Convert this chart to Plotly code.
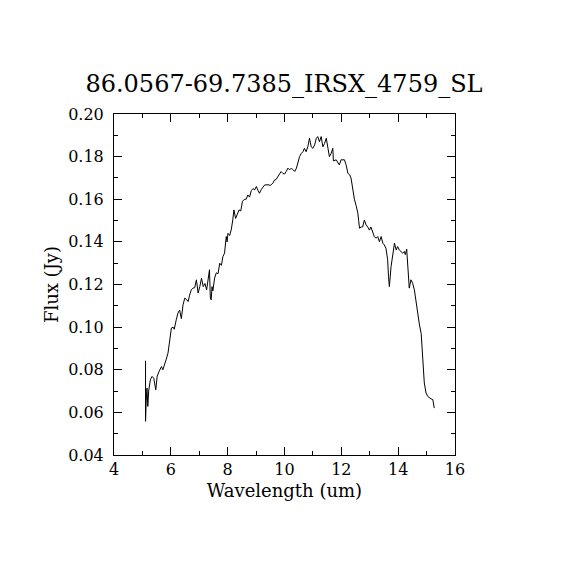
import plotly.graph_objects as go

title_text = "86.0567-69.7385_IRSX_4759_SL"

wavelength = [
    5.11, 5.11, 5.13, 5.16, 5.19, 5.22, 5.28, 5.34, 5.40, 5.47,
    5.52, 5.58, 5.67, 5.72, 5.78, 5.84, 5.90, 5.96, 6.02, 6.08,
    6.12, 6.19, 6.25, 6.31, 6.37, 6.43, 6.49, 6.55, 6.61, 6.66,
    6.72, 6.78, 6.84, 6.90, 6.96, 7.02, 7.08, 7.14, 7.20, 7.26,
    7.32, 7.36, 7.39, 7.42, 7.45, 7.48, 7.54, 7.60, 7.66, 7.72,
    7.78, 7.83, 7.89, 7.95, 7.98, 8.01, 8.07, 8.13, 8.18, 8.22,
    8.28, 8.34, 8.40, 8.46, 8.52, 8.59, 8.65, 8.71, 8.77, 8.83,
    8.89, 8.95, 9.01, 9.07, 9.12, 9.18, 9.30, 9.42, 9.50, 9.59,
    9.65, 9.70, 9.76, 9.82, 9.88, 9.94, 10.00, 10.06, 10.12, 10.18,
    10.24, 10.30, 10.36, 10.42, 10.47, 10.53, 10.59, 10.65, 10.70, 10.76,
    10.82, 10.88, 10.94, 11.00, 11.06, 11.12, 11.17, 11.23, 11.29, 11.35,
    11.41, 11.47, 11.53, 11.58, 11.64, 11.70, 11.72, 11.82, 11.93, 11.99,
    12.11, 12.17, 12.23, 12.29, 12.34, 12.40, 12.46, 12.52, 12.58, 12.61,
    12.64, 12.70, 12.75, 12.81, 12.87, 12.93, 12.99, 13.04, 13.10, 13.16,
    13.22, 13.28, 13.34, 13.40, 13.46, 13.51, 13.57, 13.63, 13.66, 13.69,
    13.75, 13.81, 13.87, 13.93, 13.98, 14.04, 14.10, 14.16, 14.22, 14.25,
    14.30, 14.34, 14.37, 14.39, 14.45, 14.51, 14.57, 14.63, 14.69, 14.75,
    14.81, 14.84, 14.89, 14.92, 14.98, 15.04, 15.16, 15.22, 15.27,
]

flux = [
    0.0842, 0.0558, 0.0644, 0.0714, 0.0628, 0.0700, 0.0753, 0.0769, 0.0760, 0.0706,
    0.0770, 0.0790, 0.0815, 0.0800, 0.0831, 0.0850, 0.0878, 0.0940, 0.0996, 0.1000,
    0.0990, 0.1034, 0.1066, 0.1080, 0.1040, 0.1105, 0.1136, 0.1130, 0.1120, 0.1150,
    0.1175, 0.1183, 0.1185, 0.1222, 0.1160, 0.1190, 0.1230, 0.1190, 0.1205, 0.1175,
    0.1220, 0.1269, 0.1136, 0.1128, 0.1190, 0.1170, 0.1230, 0.1255, 0.1250, 0.1300,
    0.1290, 0.1330, 0.1347, 0.1425, 0.1400, 0.1440, 0.1430, 0.1460, 0.1503, 0.1550,
    0.1510, 0.1530, 0.1550, 0.1545, 0.1590, 0.1600, 0.1600, 0.1620, 0.1610, 0.1640,
    0.1650, 0.1644, 0.1660, 0.1640, 0.1628, 0.1645, 0.1667, 0.1668, 0.1665, 0.1675,
    0.1690, 0.1692, 0.1706, 0.1722, 0.1730, 0.1722, 0.1718, 0.1730, 0.1746, 0.1738,
    0.1746, 0.1738, 0.1730, 0.1746, 0.1769, 0.1800, 0.1815, 0.1823, 0.1839, 0.1823,
    0.1846, 0.1886, 0.1846, 0.1839, 0.1855, 0.1886, 0.1894, 0.1870, 0.1894, 0.1846,
    0.1862, 0.1886, 0.1839, 0.1800, 0.1815, 0.1839, 0.1780, 0.1785, 0.1761, 0.1785,
    0.1785, 0.1760, 0.1722, 0.1715, 0.1700, 0.1636, 0.1600, 0.1570, 0.1535, 0.1500,
    0.1464, 0.1470, 0.1470, 0.1503, 0.1480, 0.1470, 0.1455, 0.1470, 0.1448, 0.1425,
    0.1417, 0.1425, 0.1401, 0.1425, 0.1394, 0.1386, 0.1370, 0.1316, 0.1238, 0.1190,
    0.1284, 0.1347, 0.1394, 0.1362, 0.1378, 0.1362, 0.1355, 0.1347, 0.1355, 0.1340,
    0.1366, 0.1300, 0.1237, 0.1183, 0.1222, 0.1206, 0.1175, 0.1113, 0.1050, 0.1010,
    0.0970, 0.0894, 0.0800, 0.0738, 0.0691, 0.0675, 0.0663, 0.0660, 0.0620,
]

x_ticks = [4, 6, 8, 10, 12, 14, 16]
y_ticks = [0.04, 0.06, 0.08, 0.10, 0.12, 0.14, 0.16, 0.18, 0.20]

font_name = "DejaVu Serif"

fig = go.Figure()
fig.add_trace(go.Scatter(
    x=wavelength,
    y=flux,
    mode="lines",
    line=dict(color="black", width=1),
    showlegend=False,
    hoverinfo="skip",
))

axis_common = dict(
    ticks="inside",
    ticklen=8,
    tickwidth=1,
    tickcolor="black",
    showline=True,
    linecolor="black",
    linewidth=1,
    mirror="ticks",
    showgrid=False,
    zeroline=False,
    tickfont=dict(family=font_name, size=16, color="black"),
)

# page body adds an 8px offset, so the figure is a bit smaller than the window
fig.update_layout(
    width=562,
    height=562,
    paper_bgcolor="white",
    plot_bgcolor="white",
    margin=dict(l=106, r=115, t=106, b=115),
    title=dict(
        text=title_text,
        x=(284 - 8) / 562,
        xanchor="center",
        y=1 - 76 / 562,
        yanchor="middle",
        font=dict(family=font_name, size=24, color="black"),
    ),
    xaxis=dict(
        range=[4, 16],
        tickvals=x_ticks,
        ticktext=[str(v) for v in x_ticks],
        minor=dict(dtick=1, ticks="inside", ticklen=4, tickcolor="black"),
        title=dict(text="Wavelength (um)", font=dict(family=font_name, size=18, color="black"), standoff=6),
        **axis_common,
    ),
    yaxis=dict(
        range=[0.04, 0.20],
        tickvals=y_ticks,
        ticktext=[f"{v:.2f}" for v in y_ticks],
        minor=dict(dtick=0.01, ticks="inside", ticklen=4, tickcolor="black"),
        ticklabelstandoff=6,
        title=dict(text="Flux (Jy)", font=dict(family=font_name, size=18, color="black"), standoff=4),
        **axis_common,
    ),
)

fig.write_html("out.html")
